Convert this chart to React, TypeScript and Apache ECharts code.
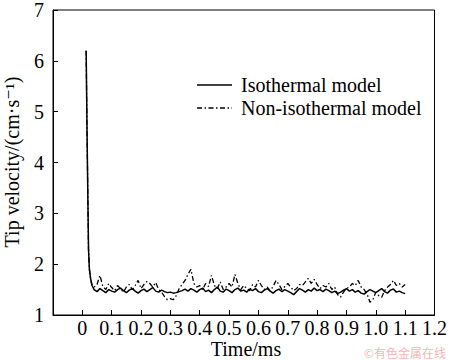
import React, { useEffect, useRef } from "react";
import * as echarts from "echarts";

const dropTimes = [0.013, 0.016, 0.019, 0.021, 0.024, 0.028, 0.033];
const dropValues = [6.2, 4.6, 3.2, 2.3, 1.9, 1.72, 1.58];

const times = [
  0.04, 0.05, 0.06, 0.07, 0.08, 0.09, 0.1,
  0.11, 0.12, 0.13, 0.14, 0.15, 0.16, 0.17, 0.18, 0.19, 0.2,
  0.21, 0.22, 0.23, 0.24, 0.25, 0.26, 0.27, 0.28, 0.29, 0.3,
  0.31, 0.32, 0.33, 0.34, 0.35, 0.36, 0.37, 0.38, 0.39, 0.4,
  0.41, 0.42, 0.43, 0.44, 0.45, 0.46, 0.47, 0.48, 0.49, 0.5,
  0.51, 0.52, 0.53, 0.54, 0.55, 0.56, 0.57, 0.58, 0.59, 0.6,
  0.61, 0.62, 0.63, 0.64, 0.65, 0.66, 0.67, 0.68, 0.69, 0.7,
  0.71, 0.72, 0.73, 0.74, 0.75, 0.76, 0.77, 0.78, 0.79, 0.8,
  0.81, 0.82, 0.83, 0.84, 0.85, 0.86, 0.87, 0.88, 0.89, 0.9,
  0.91, 0.92, 0.93, 0.94, 0.95, 0.96, 0.97, 0.98, 0.99, 1.0,
  1.01, 1.02, 1.03, 1.04, 1.05, 1.06, 1.07, 1.08, 1.09, 1.1,
];

const isothermal = [
  1.5, 1.46, 1.52, 1.48, 1.44, 1.5, 1.47,
  1.45, 1.5, 1.53, 1.48, 1.44, 1.49, 1.52, 1.47, 1.43, 1.48,
  1.51, 1.46, 1.5, 1.54, 1.47, 1.45, 1.49, 1.46, 1.44, 1.45,
  1.43, 1.44, 1.46, 1.48, 1.51, 1.47, 1.52, 1.49, 1.45, 1.5,
  1.53, 1.46, 1.49, 1.44, 1.5, 1.55, 1.47, 1.45, 1.51, 1.48,
  1.44, 1.5, 1.53, 1.47, 1.49, 1.45, 1.51, 1.48, 1.52, 1.46,
  1.44, 1.49, 1.52, 1.47, 1.43, 1.48, 1.51, 1.46, 1.5, 1.47,
  1.44, 1.4, 1.46, 1.52, 1.49, 1.45, 1.5, 1.47, 1.53, 1.48,
  1.5, 1.46, 1.51, 1.48, 1.44, 1.47, 1.42, 1.45, 1.49, 1.52,
  1.47, 1.5, 1.45, 1.48, 1.43, 1.41, 1.46, 1.5, 1.47, 1.44,
  1.48, 1.52, 1.46, 1.43, 1.49, 1.51, 1.45, 1.47, 1.44, 1.42,
];

const nonIsothermal = [
  1.55, 1.6, 1.78, 1.56, 1.5, 1.62, 1.54,
  1.48, 1.58, 1.52, 1.45, 1.55, 1.6, 1.5, 1.58, 1.68, 1.52,
  1.6, 1.66, 1.62, 1.55, 1.64, 1.5, 1.45, 1.36, 1.3, 1.32,
  1.3, 1.38, 1.52, 1.6, 1.68, 1.8, 1.9, 1.62, 1.55, 1.58,
  1.5, 1.62, 1.56, 1.78, 1.58, 1.52, 1.65, 1.5, 1.55, 1.62,
  1.55, 1.8, 1.62, 1.5, 1.58, 1.52, 1.48, 1.6, 1.55, 1.68,
  1.58, 1.5, 1.55, 1.48, 1.56, 1.68, 1.6, 1.5, 1.56, 1.62,
  1.55, 1.48, 1.52, 1.6, 1.58, 1.65, 1.72, 1.62, 1.7, 1.6,
  1.52, 1.58, 1.55, 1.62, 1.5, 1.55, 1.4, 1.35, 1.45, 1.52,
  1.55, 1.62, 1.58, 1.68, 1.55, 1.5, 1.42, 1.25, 1.3, 1.45,
  1.38, 1.35, 1.48, 1.55, 1.6, 1.68, 1.58, 1.62, 1.55, 1.6,
];

const seriesNames = ["Isothermal model", "Non-isothermal model"];
const xLabel = "Time/ms";
const yLabel = "Tip velocity/(cm·s⁻¹)";
const watermark = "©有色金属在线";

const FONT = "'Liberation Serif', 'DejaVu Serif', serif";

function pairs(ts: number[], vs: number[]) {
  return ts.map((t, i) => [t, vs[i]]);
}

export default function App() {
  const ref = useRef<HTMLDivElement>(null);
  useEffect(() => {
    if (!ref.current) return;
    const chart = echarts.init(ref.current, null, { renderer: "svg" });
    const isoData = pairs(dropTimes, dropValues).concat(pairs(times, isothermal));
    const nonData = pairs(dropTimes, dropValues).concat(pairs(times, nonIsothermal));
    chart.setOption({
      animation: false,
      backgroundColor: "#ffffff",
      grid: {
        left: 53,
        right: 11,
        top: 4,
        bottom: 45,
        show: true,
        borderColor: "#000",
        borderWidth: 1,
        backgroundColor: "transparent",
      },
      xAxis: {
        type: "value",
        min: -0.1,
        max: 1.2,
        interval: 0.1,
        axisLine: { onZero: false, lineStyle: { color: "#000", width: 1 } },
        axisTick: { inside: true, length: 5, lineStyle: { color: "#000" } },
        splitLine: { show: false },
        axisLabel: {
          color: "#000",
          fontFamily: FONT,
          fontSize: 20,
          lineHeight: 18,
          margin: 4,
          showMinLabel: true,
          formatter: (v: number) => {
            if (v < -0.05) return "";
            if (Math.abs(v) < 1e-9) return "0";
            return v.toFixed(1);
          },
        },
      },
      yAxis: {
        type: "value",
        min: 1,
        max: 7,
        interval: 1,
        axisLine: { onZero: false, lineStyle: { color: "#000", width: 1 } },
        axisTick: { inside: true, length: 5, lineStyle: { color: "#000" } },
        splitLine: { show: false },
        axisLabel: {
          color: "#000",
          fontFamily: FONT,
          fontSize: 20,
          margin: 9,
        },
      },
      series: [
        {
          name: seriesNames[0],
          type: "line",
          data: isoData,
          showSymbol: false,
          symbol: "none",
          lineStyle: { color: "#000", width: 1.5 },
          z: 3,
        },
        {
          name: seriesNames[1],
          type: "line",
          data: nonData,
          showSymbol: false,
          symbol: "none",
          lineStyle: { color: "#000", width: 1.3, type: [5, 2.5, 1.5, 2.5] },
          z: 2,
        },
      ],
      graphic: [
        {
          type: "text",
          x: 12,
          y: 162,
          rotation: Math.PI / 2,
          style: {
            text: yLabel,
            fill: "#000",
            font: `20px ${FONT}`,
            align: "center",
            verticalAlign: "middle",
          },
        },
        {
          type: "text",
          x: 246,
          y: 349,
          style: {
            text: xLabel,
            fill: "#000",
            font: `20px ${FONT}`,
            lineHeight: 18,
            align: "center",
            verticalAlign: "middle",
          },
        },
        {
          type: "line",
          shape: { x1: 197, y1: 85, x2: 232, y2: 85 },
          style: { stroke: "#000", lineWidth: 1.5 },
        },
        {
          type: "text",
          x: 241,
          y: 85,
          style: {
            text: seriesNames[0],
            fill: "#000",
            font: `20px ${FONT}`,
            align: "left",
            verticalAlign: "middle",
          },
        },
        {
          type: "line",
          shape: { x1: 197, y1: 108, x2: 232, y2: 108 },
          style: { stroke: "#000", lineWidth: 1.3, lineDash: [5, 2.5, 1.5, 2.5] },
        },
        {
          type: "text",
          x: 241,
          y: 108,
          style: {
            text: seriesNames[1],
            fill: "#000",
            font: `20px ${FONT}`,
            align: "left",
            verticalAlign: "middle",
          },
        },
        {
          type: "text",
          x: 446,
          y: 352,
          style: {
            text: watermark,
            fill: "#f4b7b7",
            font: "12px 'Noto Sans CJK SC', sans-serif",
            align: "right",
            verticalAlign: "middle",
          },
        },
      ],
    });
    return () => chart.dispose();
  }, []);
  return <div ref={ref} style={{ width: 450, height: 360, position: "absolute", left: 0, top: 0 }} />;
}
